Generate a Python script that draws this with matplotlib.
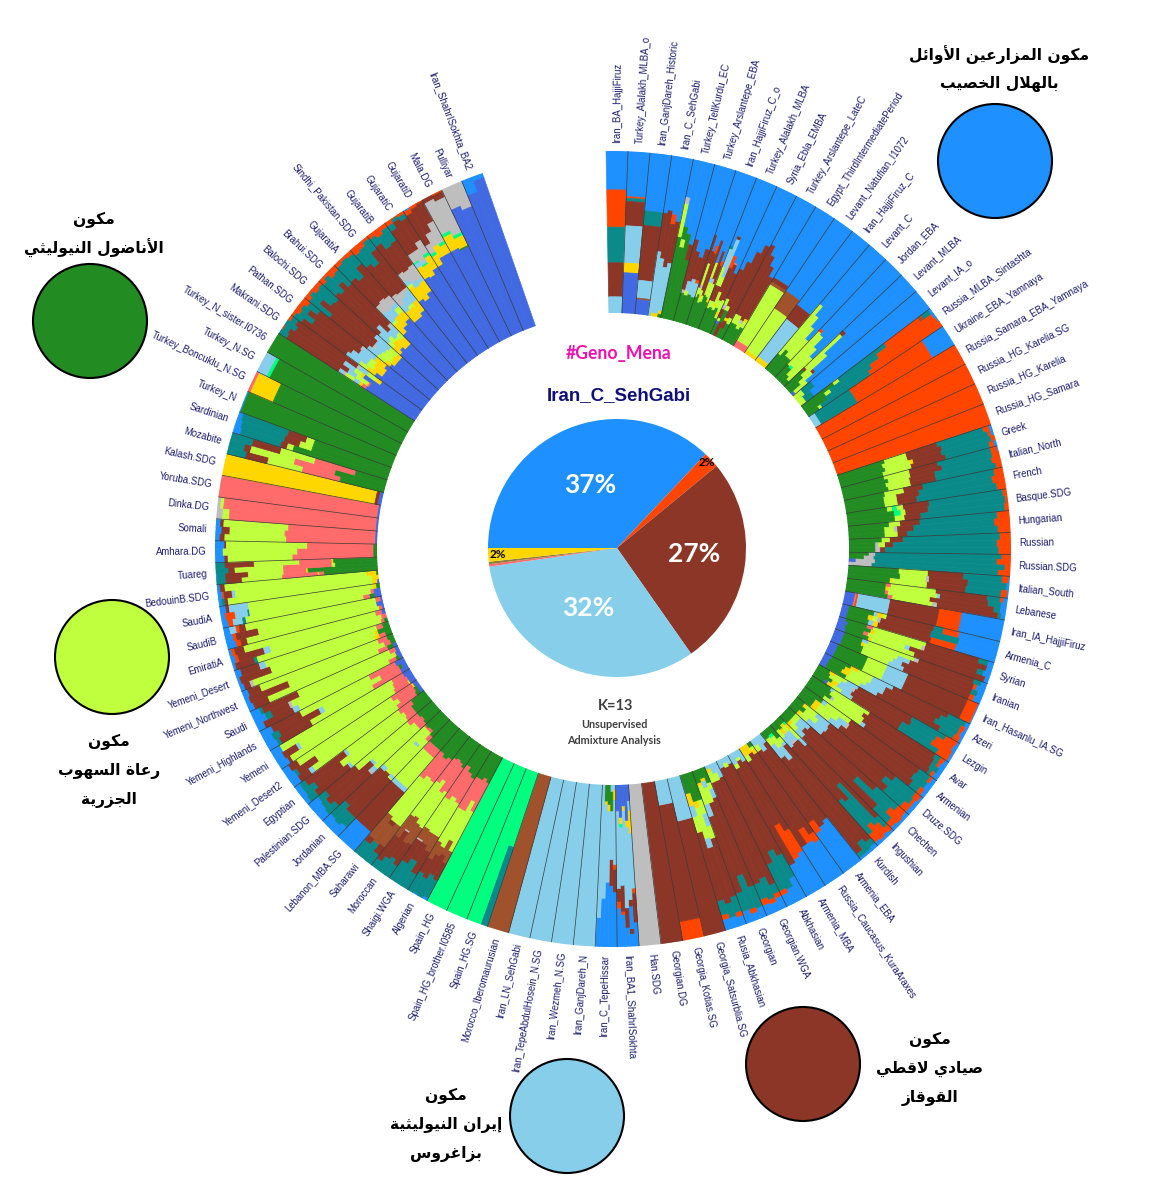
import numpy as np
import matplotlib
matplotlib.use("Agg")
import matplotlib.pyplot as plt
from matplotlib.patches import Circle

# --- component colours ---
comp_colors = {
    "b": "#1E90FF", "r": "#FF4500", "t": "#0B8A8A", "s": "#8B3626", "h": "#A0522D",
    "a": "#BEBEBE", "l": "#87CEEB", "y": "#BFFF3E", "p": "#FF6A6A", "o": "#FFD700",
    "g": "#228B22", "n": "#4169E1", "m": "#00FF7F",
}

# --- populations clockwise, starting right of the gap ---
pop_labels = [
    "Iran_BA_HajjiFiruz", "Turkey_Alalakh_MLBA_o", "Iran_GanjDareh_Historic", "Iran_C_SehGabi",
    "Turkey_TellKurdu_EC", "Turkey_Arslantepe_EBA", "Iran_HajjiFiruz_C_o", "Turkey_Alalakh_MLBA",
    "Syria_Ebla_EMBA", "Turkey_Arslantepe_LateC", "Egypt_ThirdIntermediatePeriod", "Levant_Natufian_I1072",
    "Iran_HajjiFiruz_C", "Levant_C", "Jordan_EBA", "Levant_MLBA", "Levant_IA_o", "Russia_MLBA_Sintashta",
    "Ukraine_EBA_Yamnaya", "Russia_Samara_EBA_Yamnaya", "Russia_HG_Karelia.SG", "Russia_HG_Karelia",
    "Russia_HG_Samara", "Greek", "Italian_North", "French", "Basque.SDG", "Hungarian", "Russian",
    "Russian.SDG", "Italian_South", "Lebanese", "Iran_IA_HajjiFiruz", "Armenia_C", "Syrian", "Iranian",
    "Iran_Hasanlu_IA.SG", "Azeri", "Lezgin", "Avar", "Armenian", "Druze.SDG", "Chechen", "Ingushian",
    "Kurdish", "Armenia_EBA", "Russia_Caucasus_KuraAraxes", "Armenia_MBA", "Abkhasian", "Georgian.WGA",
    "Georgian", "Rusia_Abkhasian", "Georgia_Satsurblia.SG", "Georgia_Kotias.SG", "Georgian.DG", "Han.SDG",
    "Iran_BA1_ShahrISokhta", "Iran_C_TepeHissar", "Iran_GanjDareh_N", "Iran_Wezmeh_N.SG",
    "Iran_TepeAbdulHosein_N.SG", "Iran_LN_SehGabi", "Morocco_Iberomaurusian", "Spain_HG.SG",
    "Spain_HG_brother.I0585", "Spain_HG", "Algerian", "Shaigi.WGA", "Moroccan", "Saharawi",
    "Lebanon_MBA.SG", "Jordanian", "Palestinian.SDG", "Egyptian", "Yemeni_Desert2", "Yemeni",
    "Yemeni_Highlands", "Saudi", "Yemeni_Northwest", "Yemeni_Desert", "EmiratiA", "SaudiB", "SaudiA",
    "BedouinB.SDG", "Tuareg", "Amhara.DG", "Somali", "Dinka.DG", "Yoruba.SDG", "Kalash.SDG", "Mozabite",
    "Sardinian", "Turkey_N", "Turkey_Boncuklu_N.SG", "Turkey_N.SG", "Turkey_N_sister.I0736", "Makrani.SDG",
    "Pathan.SDG", "Balochi.SDG", "Brahui.SDG", "GujaratiA", "Sindhi_Pakistan.SDG", "GujaratiB", "GujaratiC",
    "GujaratiD", "Mala.DG", "Pulliyar", "Iran_ShahrISokhta_BA2",
]

# --- one list per population, one string per sample, outer edge to inner edge (percent) ---
pop_samples = [
    ["b24 r23 t22 s21 l10"],
    ["b28 r1 t2 s15 l23 o6 n25"],
    ["b36 t9 s34 l11 h1 n9"],
    ["b36 s24 l40", "b34 s30 l34 o2", "b36 r6 s27 l29 o2", "b40 s26 l30 o2 g2"],
    ["b24 a4 y21 g51", "b42 g8 y5 g45", "b46 g54", "b52 s10 g38"],
    ["b48 s32 a2 g18", "b55 s19 l6 y3 g17", "b58 s14 l10 g18", "b52 s20 r2 l9 g17"],
    ["b42 s34 y6 g18", "b52 s8 y14 a2 y4 g20", "b48 r5 s24 y3 o2 y3 g15", "b44 s36 y4 g16", "b58 y10 l3 y8 g21", "b50 s18 a3 y9 g20", "b56 r3 s12 y10 o2 g17"],
    ["b45 t2 l12 y12 s10 y5 g14", "b38 s2 l25 y6 s10 y4 g15", "b50 r8 s16 y8 o1 y3 g14", "b54 p1 s24 y5 g16", "b60 s18 y8 o2 y2 g10"],
    ["b56 s20 y4 a3 s6 y2 n2 g7", "b50 s30 y3 g8 s9", "b42 s45 o2 s5 g6", "b36 s50 y4 g10"],
    ["b34 s48 y6 g12", "b40 s42 y6 g12", "b46 s38 a2 y4 g10", "b52 s30 o2 y4 g12"],
    ["b51 s3 h2 y40 p4"],
    ["b54 h13 y31 o2"],
    ["b57 s11 l29 o3"],
    ["b48 y40 g12", "b55 y28 g17", "b62 y24 g14", "b70 y16 g14"],
    ["b59 r2 y28 g11", "b62 y26 m2 g10", "b70 y24 g6", "b76 y20 g4"],
    ["b50 s3 y30 s2 g15", "b68 y20 g12", "b80 s2 y10 g8", "b88 y10 n2"],
    ["b86 t8 y6", "b90 t6 y4"],
    ["b2 t5 h3 r26 t36 y4 g24", "b2 r42 t36 y4 g16", "b1 r50 t34 g15", "r54 t36 y2 g8"],
    ["b16 r54 t26 l4"],
    ["r100"], ["r100"], ["r100"], ["r100"],
    ["b2 r4 t30 s20 y14 g30", "b2 r2 t30 s22 y16 g28", "r3 t32 s18 o2 y16 g29", "b2 r3 t28 s22 y18 g27"],
    ["b1 r4 t34 s18 y16 g27", "r5 t32 s20 y14 g29", "r6 t36 s16 y15 g27", "r4 t38 s16 y14 g28"],
    ["r6 t45 s12 y12 g25", "r8 t46 s14 y8 g24", "r6 t50 s12 y8 g24"],
    ["r3 t46 s16 y4 m3 y3 g25", "r2 t48 s14 y3 m4 g29", "r3 t52 s10 y6 g29"],
    ["r8 t48 s12 y7 g25", "r10 t50 s10 a2 y6 g22", "r8 t56 s6 y8 g22"],
    ["r7 t60 s8 y5 g20", "r9 t64 s5 y4 a2 g16", "r8 t70 s3 a3 g16"],
    ["r6 t78 a4 g12", "r9 t76 a6 g9", "r4 t80 a12 n4", "r8 t78 a14"],
    ["b1 r4 t24 s22 y18 g31", "b2 t24 s24 a2 y16 g32", "b1 r4 t22 s24 y22 o1 g26"],
    ["b3 r2 t8 s32 y28 p3 g24", "b4 t8 s30 l2 y30 o2 g24", "b4 t4 s40 y26 p2 g24", "b3 t2 s38 a3 y25 p3 g26"],
    ["b27 r14 s31 l20 r1 p1 n6"],
    ["b26 r10 t6 s30 y2 o4 l2 g16 n4", "b25 t18 s32 a2 y3 o3 g13 n4", "b26 r16 s34 o3 l3 g14 n4"],
    ["b4 t6 s34 y34 p4 g14 n4", "b4 s40 a2 y30 o3 g15 n6", "b5 t4 s44 l3 y24 p3 g12 n5", "b3 s46 y28 o2 g15 n6"],
    ["b4 t5 s36 a3 y30 l4 g12 n6", "b6 r2 s42 l8 y22 o2 g12 n6", "b4 t4 s46 l6 y20 g14 n6", "b5 r3 s44 l10 y18 g14 n6"],
    ["b1 r7 s40 l14 y13 g20 n5"],
    ["b3 t12 s38 l14 y10 o5 g13 n5", "b2 r3 t14 s38 l10 y14 o4 g11 n4", "b3 r2 t16 s36 l12 y12 o5 g10 n4", "b2 r4 t10 s44 l12 y10 g14 n4"],
    ["b2 r8 t24 s38 l8 y8 o4 g8", "b3 r12 t18 s40 a2 l8 y8 g9", "b2 r14 t22 s36 l10 o4 g12", "b2 r8 t28 s34 l8 y6 o4 n2 g8"],
    ["b3 r3 t4 s48 y26 l2 g14", "b4 r2 t3 s52 y24 g15", "b3 t6 s50 y22 a2 g17", "b4 r2 t2 s48 l3 y28 g13"],
    ["b3 r2 t8 s52 y18 l3 g14", "b4 t10 s50 a2 l6 y14 o4 g10", "b3 r3 t6 s56 l8 y10 o4 g10"],
    ["b2 r4 t16 s52 l10 y8 o2 g6", "b3 r2 t22 s46 l8 y10 g9", "b3 r5 t14 s52 l12 y6 o2 g6"],
    ["b3 r6 t18 s55 l8 y4 g6", "b2 r10 t28 s44 l6 y4 g6", "b3 r4 t12 s62 l6 y5 o2 g6"],
    ["b2 r4 t8 s62 l6 y8 o4 m2 g4", "b3 r8 t34 s37 l8 y4 o2 g4", "b2 r12 t20 s48 a2 l6 o4 g6", "b3 r6 t28 s44 l8 y6 g5"],
    ["b3 t4 s78 l2 y4 g9", "b2 t8 s66 l10 y8 m2 g4", "b2 t3 s75 l10 y5 g5"],
    ["b34 s60 l6", "b32 s58 l10", "b30 r8 s54 y4 l4"],
    ["b26 r6 s60 o3 y2 g3", "b28 r10 s56 o6", "b28 s62 y4 o6"],
    ["b26 r16 s50 l8", "b24 r24 s46 y2 l4", "b22 s68 y3 l7"],
    ["b15 t16 s64 l5", "b10 t26 s58 y3 l3", "b8 r3 t18 s66 l5"],
    ["b8 r3 t6 s73 l10", "b6 r3 t14 s66 y5 l6", "b7 r4 t10 s68 y7 o2 l2"],
    ["b7 t14 s59 l6 y4 g10", "b5 r3 t22 s48 y10 l4 o2 g6", "b8 t12 s50 l8 y12 o2 g8"],
    ["b6 r3 t10 s38 y8 l8 y9 g18", "b7 t9 s36 l6 y20 o4 g18", "b7 r3 t9 s44 y10 l7 o8 g12"],
    ["s73 l27"],
    ["r12 s73 l15"],
    ["s100"],
    ["a100"],
    ["b15 s18 r3 l34 o14 l6 n10", "b8 s3 b14 s4 l45 o4 n22", "b12 s12 l60 o3 n13", "b20 r2 s16 l36 m2 o4 n20", "b24 r4 s8 l48 n16"],
    ["b34 s14 r3 l40 o6 l3", "b38 s16 l30 g12 l4", "b40 l44 o4 g12", "b30 l58 o2 g10", "b18 l82"],
    ["l100"], ["l100"], ["l100"], ["l100"],
    ["h100"],
    ["t52 m48", "m100", "m100"],
    ["m100"],
    ["m100"],
    ["b2 t12 s12 h8 y28 p20 g18", "t16 s14 h10 y28 p16 g16", "b1 t11 s16 h6 y26 p22 g18", "t14 s10 h12 y24 p22 g18"],
    ["t11 s16 h11 y24 p18 g20", "t18 s12 h8 y26 p18 g18", "t14 s16 a1 h8 y22 p24 g15"],
    ["t9 s16 h12 y27 p18 g18", "t12 s12 h14 y24 p22 g16", "t10 s20 a1 h10 y28 p16 g15", "t6 s18 h16 y26 p18 g16"],
    ["t8 s6 h16 y34 p18 g18", "t13 h14 s3 y35 p15 g20", "t10 s4 h18 y30 p20 g18"],
    ["b16 s32 l3 y25 p6 g18"],
    ["b8 t8 s32 y1 l2 y30 p4 g15", "b6 t10 s34 y24 l2 y10 p2 g12", "b7 t12 s30 l3 y34 p1 g13"],
    ["b6 t8 s28 a2 l3 y36 p5 g12", "b7 t4 s36 l2 y34 p6 g11", "b8 t6 s24 y42 p8 g12"],
    ["b3 t6 s26 l2 y44 p7 g12", "b4 t8 s20 y50 p6 g12", "b4 t4 s30 l2 y40 p10 g10"],
    ["b6 s8 l3 y64 p14 g3 n2", "b6 t2 s14 y62 p12 g2 n2", "b5 s6 y70 p15 o1 n3"],
    ["b7 s2 y76 p10 o1 n4", "b6 s10 l2 y68 p10 n4", "b7 y80 p8 n5"],
    ["b7 t2 s22 y44 p20 n5", "b6 t5 s28 l3 y40 p13 g2 n3", "b8 s20 y48 p18 n6"],
    ["b5 s20 l4 y62 p5 g2 n2", "b8 t4 s12 a2 y70 o1 n3", "b6 t2 s24 y62 p4 n2"],
    ["b4 s10 y74 p6 g4 n2", "b3 s26 y64 p4 g3", "b4 s8 y78 p6 g4"],
    ["b3 s4 a2 y80 o3 p4 g4", "b2 s20 y68 o2 g8", "b4 s12 l4 y72 p4 g4"],
    ["b2 s12 t2 y80 p2 g2", "b3 r2 s16 l4 y70 p3", "b2 r2 s6 y84 p4 n2"],
    ["b6 r3 s4 y84 p2 n1", "b5 r2 s14 y75 n4", "b4 l4 r2 s4 y82 p3 n1"],
    ["b4 r3 l6 t2 y74 p4 g3 n4", "b3 r6 l8 t1 y76 p2 n4", "b4 s2 l12 y78 o2 g2"],
    ["b2 t2 s2 y90 o3 n1", "b3 r1 s5 l2 y85 o4", "b2 s3 y88 o6 g1"],
    ["t6 s10 y25 p22 o1 p3 g33", "b1 t5 s14 y22 p14 o1 g43", "t8 s4 y30 p30 y2 g26", "t6 s18 y28 p20 o1 g27"],
    ["b6 s2 y40 p50 g2", "b5 y46 p47 g2", "b6 s1 y50 p41 g2"],
    ["b3 s3 y38 p55 n1", "b4 s5 y34 p56 n1", "b3 s2 y40 p54 n1"],
    ["a4 y4 p91 n1", "a2 y2 p95 n1"],
    ["p99 n1"],
    ["o96 s2 n2"],
    ["t12 s14 y22 p24 g28", "t10 s4 y28 p26 g32", "t14 s18 y22 p26 g20"],
    ["b5 t26 s4 y4 g61", "b4 t28 s10 y8 g50", "b3 t30 s12 y5 g50"],
    ["b1 g99"],
    ["p2 o15 g83"],
    ["l7 m2 g91"],
    ["g100"],
    ["t6 s38 l3 a2 y6 l4 o2 p3 n36", "r1 t4 s44 l6 y8 o1 p1 n35", "t8 s36 l8 y5 o2 n41", "r2 t4 s46 a2 l6 y6 o4 n30"],
    ["r2 t6 s34 l10 y6 o6 n36", "r4 t10 s30 l12 y5 o7 n32", "r3 t5 s40 l8 y4 o8 n32", "r5 t8 s34 a2 l9 o8 n34"],
    ["r4 t16 s30 l8 y6 o4 n32", "r2 t8 s42 a2 l5 y8 o3 n30", "r4 t12 s36 l8 y6 o4 n30", "r3 t14 s32 l12 y6 o3 n30"],
    ["r4 t10 s36 l8 y4 o6 n32", "r2 t14 s30 l10 y4 o6 n34", "r5 t6 s42 l6 y2 o7 n32", "r4 t12 s34 a2 l6 y4 o6 n32"],
    ["r3 t12 s22 a6 l8 y2 o8 n39", "r2 t16 s18 a8 l6 o8 n42", "r3 t8 s26 a6 l3 y4 o6 n44"],
    ["r5 t10 s24 a8 l5 o8 n40", "r4 t14 s22 a4 l6 y2 o8 n40", "r2 t8 s30 a2 l8 o8 n42"],
    ["r3 t6 s22 a6 l3 y2 o10 n48", "r5 t9 s18 a8 l4 o10 n46", "r3 t10 s18 a10 l2 o8 n49"],
    ["r3 t4 s18 a6 m1 l3 o8 n57", "r1 t2 s22 a8 l2 m1 o8 n56", "r2 t3 s16 a9 m2 o9 n59"],
    ["b1 r3 s22 a6 m2 o7 n59", "r2 s18 a4 a5 o8 n63", "r1 s14 a14 m2 o6 n63"],
    ["s3 a22 m2 o10 n63", "r1 s4 a24 m2 o7 g1 n61"],
    ["a14 n86", "a17 n83"],
    ["b10 n90", "b3 n97"],
]

# pie values, blue / orange / brown / light / salmon / sienna / gold
pie_values = [37, 2, 26.2, 32.4, 0.3, 0.3, 1.7]
pie_colors = ["#1E90FF", "#FF4500", "#8B3626", "#87CEEB", "#FF6A6A", "#8B7D3A", "#FFD700"]
pie_notes = ["37%", "27%", "32%", "2%", "2%"]

legend_circles = ["#1E90FF", "#228B22", "#BFFF3E", "#87CEEB", "#8B3626"]
legend_lines = [
    ["مكون المزارعين الأوائل", "بالهلال الخصيب"],
    ["مكون", "الأناضول النيوليثي"],
    ["مكون", "رعاة السهوب", "الجزرية"],
    ["مكون", "إيران النيوليثية", "بزاغروس"],
    ["مكون", "صيادي لاقطي", "القوقاز"],
]

# --- arabic shaping, matplotlib does not join letters by itself ---
forms = {
    "ا": (0xFE8D, 0xFE8E), "أ": (0xFE83, 0xFE84), "إ": (0xFE87, 0xFE88), "د": (0xFEA9, 0xFEAA),
    "ر": (0xFEAD, 0xFEAE), "ز": (0xFEAF, 0xFEB0), "و": (0xFEED, 0xFEEE), "ة": (0xFE93, 0xFE94),
    "ئ": (0xFE89, 0xFE8A, 0xFE8B, 0xFE8C), "ب": (0xFE8F, 0xFE90, 0xFE91, 0xFE92),
    "ت": (0xFE95, 0xFE96, 0xFE97, 0xFE98), "ث": (0xFE99, 0xFE9A, 0xFE9B, 0xFE9C),
    "ج": (0xFE9D, 0xFE9E, 0xFE9F, 0xFEA0), "خ": (0xFEA5, 0xFEA6, 0xFEA7, 0xFEA8),
    "س": (0xFEB1, 0xFEB2, 0xFEB3, 0xFEB4), "ص": (0xFEB9, 0xFEBA, 0xFEBB, 0xFEBC),
    "ض": (0xFEBD, 0xFEBE, 0xFEBF, 0xFEC0), "ط": (0xFEC1, 0xFEC2, 0xFEC3, 0xFEC4),
    "ع": (0xFEC9, 0xFECA, 0xFECB, 0xFECC), "غ": (0xFECD, 0xFECE, 0xFECF, 0xFED0),
    "ق": (0xFED5, 0xFED6, 0xFED7, 0xFED8), "ك": (0xFED9, 0xFEDA, 0xFEDB, 0xFEDC),
    "ل": (0xFEDD, 0xFEDE, 0xFEDF, 0xFEE0), "م": (0xFEE1, 0xFEE2, 0xFEE3, 0xFEE4),
    "ن": (0xFEE5, 0xFEE6, 0xFEE7, 0xFEE8), "ه": (0xFEE9, 0xFEEA, 0xFEEB, 0xFEEC),
    "ي": (0xFEF1, 0xFEF2, 0xFEF3, 0xFEF4),
}
lam_alef = {"ا": (0xFEFB, 0xFEFC), "أ": (0xFEF7, 0xFEF8), "إ": (0xFEF9, 0xFEFA)}


def shape(text):
    out = []
    i = 0
    prev_joins = False
    while i < len(text):
        ch = text[i]
        if ch not in forms:
            out.append(ch)
            prev_joins = False
            i += 1
            continue
        if ch == "ل" and i + 1 < len(text) and text[i + 1] in lam_alef:
            out.append(chr(lam_alef[text[i + 1]][1 if prev_joins else 0]))
            prev_joins = False
            i += 2
            continue
        f = forms[ch]
        next_letter = i + 1 < len(text) and text[i + 1] in forms
        if len(f) == 2:
            out.append(chr(f[1] if prev_joins else f[0]))
            prev_joins = False
        else:
            if prev_joins and next_letter:
                out.append(chr(f[3]))
            elif prev_joins:
                out.append(chr(f[1]))
            elif next_letter:
                out.append(chr(f[2]))
            else:
                out.append(chr(f[0]))
            prev_joins = next_letter
        i += 1
    return "".join(reversed(out))


fig = plt.figure(figsize=(11.57, 12), dpi=100)
W, H = 1157, 1200
cx, cy = 613, 549
r_in, r_out = 236, 398

# --- ring ---
ax = fig.add_axes([(cx - r_out) / W, (H - cy - r_out) / H, 2 * r_out / W, 2 * r_out / H], projection="polar")
ax.set_theta_zero_location("N")
ax.set_theta_direction(-1)
ax.set_ylim(0, 100)
ax.set_rorigin(-100 * r_in / (r_out - r_in))
ax.axis("off")

start = np.deg2rad(-1.0)
step = np.deg2rad(3.165)

for i, samples in enumerate(pop_samples):
    w = step / len(samples)
    for j, sample in enumerate(samples):
        parts = [(p[0], float(p[1:])) for p in sample.split()]
        total = sum(v for _, v in parts)
        top = 100.0
        for comp, v in parts:
            h = v * 100.0 / total
            if h > 0:
                ax.bar(start + i * step + (j + 0.5) * w, h, width=w, bottom=top - h,
                       color=comp_colors[comp], edgecolor=comp_colors[comp], linewidth=0.5)
            top -= h

# separators between populations
for i in range(1, len(pop_samples)):
    t = start + i * step
    ax.plot([t, t], [0, 100], color="#3a3a3a", lw=0.5)

# population labels
for i, name in enumerate(pop_labels):
    t = start + (i + 0.5) * step
    deg = np.rad2deg(t) % 360
    if deg < 180:
        rot, ha = 90 - deg, "left"
    else:
        rot, ha = 270 - deg, "right"
    ax.text(t, 105, name, rotation=rot, ha=ha, va="center", rotation_mode="anchor",
            fontsize=6.9, color="#1c1c6e", family="Liberation Sans", clip_on=False)

# --- pie ---
pr = 129
ax_pie = fig.add_axes([(617 - pr) / W, (H - 548 - pr) / H, 2 * pr / W, 2 * pr / H])
ax_pie.pie(pie_values, colors=pie_colors, startangle=180, counterclock=False, radius=1)
ax_pie.set_xlim(-1, 1)
ax_pie.set_ylim(-1, 1)

# --- overlay in pixel coordinates ---
ov = fig.add_axes([0, 0, 1, 1])
ov.set_xlim(0, W)
ov.set_ylim(H, 0)
ov.axis("off")
ov.patch.set_alpha(0)

ov.text(619, 353, "#Geno_Mena", color="#EE10B0", fontsize=12.7, fontweight="bold", family="Lato", ha="center", va="center")
ov.text(619, 396, "Iran_C_SehGabi", color="#10107A", fontsize=13.5, fontweight="bold", family="Liberation Sans", ha="center", va="center")
note_pos = [(590, 485, 19, "white"), (694, 554, 19, "white"), (588, 608, 19, "white"), (707, 463, 8.5, "black"), (498, 554, 8.5, "black")]
for note, (x, y, fs, col) in zip(pie_notes, note_pos):
    ov.text(x, y, note, color=col, fontsize=fs, fontweight="bold", family="Lato", ha="center", va="center")
ov.text(616, 706, "K=13", color="#404040", fontsize=10.5, fontweight="bold", family="Lato", ha="center", va="center")
ov.text(614, 724, "Unsupervised", color="#404040", fontsize=7.8, fontweight="bold", family="Lato", ha="center", va="center")
ov.text(614, 741, "Admixture Analysis", color="#404040", fontsize=7.8, fontweight="bold", family="Lato", ha="center", va="center")

# legend circles and their captions
circle_pos = [(995, 161), (90, 321), (112, 657), (567, 1116), (803, 1064)]
caption_pos = [(999, 69), (94, 234), (109, 771), (446, 1125), (930, 1069)]
for col, (x, y), lines, (tx, ty) in zip(legend_circles, circle_pos, legend_lines, caption_pos):
    ov.add_patch(Circle((x, y), 57, facecolor=col, edgecolor="black", lw=1.5))
    for k, line in enumerate(lines):
        off = (k - (len(lines) - 1) / 2) * 29
        ov.text(tx, ty + off, shape(line), fontsize=11.2, fontweight="bold", family="DejaVu Sans",
                color="black", ha="center", va="center")

fig.savefig("out.png", dpi=100)
